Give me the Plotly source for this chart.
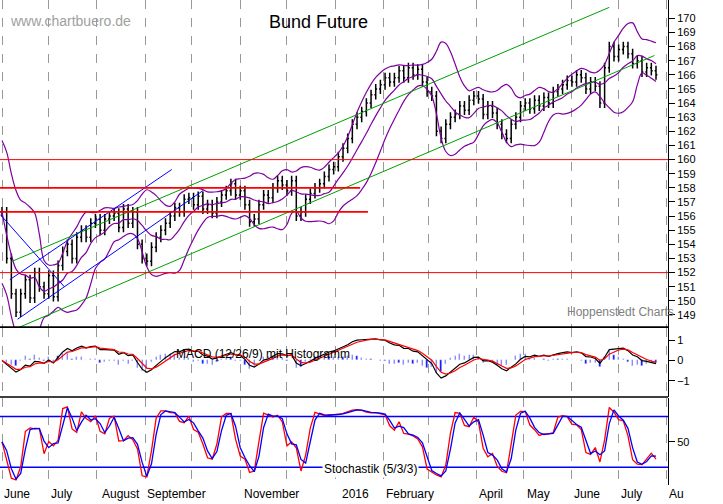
import pandas as pd
import numpy as np
import plotly.graph_objects as go

start = pd.Timestamp("2015-06-01")
closes = [156.3,153.0,150.5,149.2,150.5,151.5,150.2,152.0,151.0,150.5,
          151.8,150.3,152.5,153.5,154.0,153.0,154.5,155.0,154.5,155.5,
          155.8,155.0,155.8,156.0,156.2,155.2,156.5,155.5,156.3,154.0,
          153.0,152.8,153.8,154.5,155.0,155.5,156.0,156.6,156.3,157.2,
          157.3,156.8,157.4,156.5,156.8,156.2,157.0,157.5,157.8,158.3,
          157.5,157.8,156.8,155.6,155.8,156.8,157.5,157.3,158.0,158.5,
          158.2,157.8,158.5,156.0,156.3,157.2,157.6,158.0,158.3,158.8,
          159.3,159.5,160.2,160.8,161.5,162.5,163.0,163.4,164.0,164.6,
          165.0,165.3,165.8,165.5,165.8,166.3,165.8,166.5,166.0,166.4,
          165.5,164.8,164.5,162.0,161.5,162.5,163.0,163.2,163.8,163.5,
          164.2,164.5,164.3,163.2,163.8,163.3,162.5,161.8,161.5,162.5,
          163.0,163.8,164.0,163.6,164.2,163.8,164.4,164.0,164.8,165.0,
          165.3,165.6,165.5,166.0,165.8,165.0,165.5,165.2,164.0,166.5,
          168.0,167.3,167.8,168.0,167.5,166.8,167.0,166.2,166.5,166.3,166.0]
dates = [start + pd.Timedelta(days=3 * i) for i in range(len(closes))]

# trend lines: (date0, price0, date1, price1, colour)
trend_lines = [
    ("2015-06-07", 152.78, "2016-06-25", 170.78, "#00a000"),
    ("2015-06-11", 148.08, "2016-07-24", 167.37, "#00a000"),
    ("2015-06-06", 151.5, "2015-09-18", 159.3, "#0000ff"),
    ("2015-06-11", 148.7, "2015-10-08", 157.8, "#0000ff"),
    ("2015-05-31", 156.1, "2015-07-11", 151.0, "#0000ff"),
]
# horizontal lines: (price, end date, width)
h_lines = [(160, "2016-08-02", 1), (152, "2016-08-02", 1),
           (158, "2016-01-17", 1.6), (156.3, "2016-01-22", 1.6)]

month_labels = ["June", "July", "August", "September", "November", "2016", "February",
                "April", "May", "June", "July", "Au"]
month_dates = ["2015-06-01", "2015-07-01", "2015-08-03", "2015-09-01", "2015-11-02", "2016-01-04",
               "2016-02-01", "2016-04-01", "2016-05-02", "2016-06-01", "2016-07-01", "2016-08-01"]
price_ticks = list(range(149, 171))

c = pd.Series(closes, index=dates)
o = c.shift(1).fillna(c.iloc[0])
h = np.maximum(o, c) + 0.35
l = np.minimum(o, c) - 0.35

mid = c.rolling(8, min_periods=1).mean()
sd = c.rolling(8, min_periods=6).std().bfill()
up, lo = mid + 2 * sd, mid - 2 * sd
up = up.rolling(2, min_periods=1).mean(); lo = lo.rolling(2, min_periods=1).mean()

ema_f = c.ewm(span=4).mean(); ema_s = c.ewm(span=9).mean()
macd = (ema_f - ema_s) * 0.8
sig = macd.ewm(span=3).mean()
hist = (macd - sig) * 2

hh = h.rolling(3, min_periods=1).max(); ll = l.rolling(3, min_periods=1).min()
k = 100 * (c - ll) / (hh - ll)
kf = k.rolling(2, min_periods=1).mean()
d = kf.rolling(2, min_periods=1).mean()

fig = go.Figure()
fig.add_trace(go.Ohlc(x=dates, open=o, high=h, low=l, close=c,
                      increasing_line_color="black", decreasing_line_color="black",
                      line_width=1.5, xaxis="x", yaxis="y", showlegend=False))
for s in (up, mid, lo):
    fig.add_trace(go.Scatter(x=dates, y=s, mode="lines", line=dict(color="#8000a0", width=1.2, shape="spline"),
                             xaxis="x", yaxis="y", showlegend=False))
for d0, p0, d1, p1, col in trend_lines:
    fig.add_trace(go.Scatter(x=[d0, d1], y=[p0, p1], mode="lines", line=dict(color=col, width=1),
                             xaxis="x", yaxis="y", showlegend=False))
for p, e, w in h_lines:
    fig.add_trace(go.Scatter(x=["2015-05-30", e], y=[p, p], mode="lines", line=dict(color="red", width=w),
                             xaxis="x", yaxis="y", showlegend=False))

fig.add_trace(go.Bar(x=dates, y=hist, marker_color="#0000ff", width=86400000 * 0.8,
                     xaxis="x", yaxis="y2", showlegend=False))
fig.add_trace(go.Scatter(x=dates, y=macd, mode="lines", line=dict(color="black", width=1.2),
                         xaxis="x", yaxis="y2", showlegend=False))
fig.add_trace(go.Scatter(x=dates, y=sig, mode="lines", line=dict(color="red", width=1.2),
                         xaxis="x", yaxis="y2", showlegend=False))

for lv in (80, 20):
    fig.add_trace(go.Scatter(x=["2015-05-30", "2016-08-02"], y=[lv, lv], mode="lines",
                             line=dict(color="#0000ff", width=1.5), xaxis="x", yaxis="y3", showlegend=False))
fig.add_trace(go.Scatter(x=dates, y=kf, mode="lines", line=dict(color="red", width=1.3),
                         xaxis="x", yaxis="y3", showlegend=False))
fig.add_trace(go.Scatter(x=dates, y=d, mode="lines", line=dict(color="#0000ff", width=1.3),
                         xaxis="x", yaxis="y3", showlegend=False))

H = 485.0
dom_p = [(H - 327) / H, 1]
dom_m = [(H - 397) / H, (H - 328) / H]
dom_s = [0, (H - 398) / H]
font = "Liberation Sans, Arial, sans-serif"
yax = dict(side="right", showgrid=False, zeroline=False, showline=True, linecolor="black",
           ticks="outside", ticklen=6, tickcolor="black", tickfont=dict(size=11, color="black", family=font),
           mirror=False, anchor="x")
xr = ["2015-05-30 17:00", "2016-08-01 17:00"]

fig.update_layout(
    width=723, height=504, margin=dict(l=0, r=55, t=0, b=19),
    paper_bgcolor="white", plot_bgcolor="white", bargap=0,
    xaxis=dict(range=xr, domain=[0, 1], showticklabels=False, showgrid=True, gridcolor="#999",
               griddash="dash", dtick="M1", tick0="2015-06-01", rangeslider=dict(visible=False),
               showline=True, linecolor="black", zeroline=False),
    yaxis=dict(domain=dom_p, range=[148.15, 171.3], tickvals=price_ticks, **yax),
    yaxis2=dict(domain=dom_m, range=[-1.8, 1.6], tickvals=[-1, 0, 1], **yax),
    yaxis3=dict(domain=dom_s, range=[-1, 102], tickvals=[50], **yax),
    shapes=[
        dict(type="line", xref="paper", yref="paper", x0=0, x1=1, y0=dom_p[0], y1=dom_p[0], line=dict(color="black", width=1.5)),
        dict(type="line", xref="paper", yref="paper", x0=0, x1=1, y0=dom_m[0], y1=dom_m[0], line=dict(color="black", width=1.5)),
    ],
)
ann = [
    dict(text="Bund Future", x=318, y=22, font=dict(size=18, family=font, color="black")),
    dict(text="www.chartbuero.de", x=70, y=21, font=dict(size=14, family=font, color="#a0a0a0")),
    dict(text="Hoppenstedt Charts", x=620, y=312, font=dict(size=12, family=font, color="#808080")),
    dict(text="MACD (12/26/9) mit Histogramm", x=263, y=354, font=dict(size=12, family=font, color="black")),
    dict(text="Stochastik (5/3/3)", x=370, y=469, font=dict(size=12, family=font, color="black"), bgcolor="white"),
]
annotations = []
for a in ann:
    annotations.append(dict(text=a["text"], xref="paper", yref="paper", x=a["x"] / 668, y=1 - a["y"] / H,
                            showarrow=False, font=a["font"], xanchor="center", yanchor="middle",
                            bgcolor=a.get("bgcolor")))
for lab, dt in zip(month_labels, month_dates):
    annotations.append(dict(text=lab, x=dt, xref="x", yref="paper", y=0, yanchor="top", xanchor="left",
                            showarrow=False, font=dict(size=12, family=font, color="black")))
fig.update_layout(annotations=annotations)
fig.write_html("out.html", config={"displayModeBar": False},
               post_script="document.body.style.margin='0';document.body.style.overflow='hidden';")
